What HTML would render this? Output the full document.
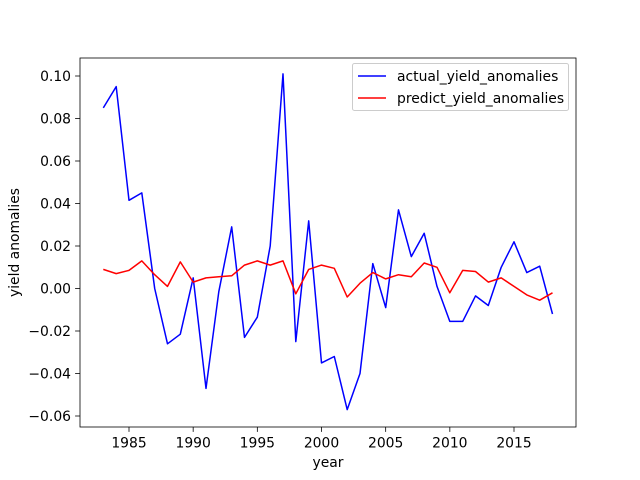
<!DOCTYPE html>
<html><head><meta charset="utf-8"><style>
body{margin:0;background:#fff}
svg{display:block;font-family:"DejaVu Sans","Liberation Sans",sans-serif}
</style></head><body>
<svg id="chart" width="640" height="480" viewBox="0 0 640 480">
<rect width="640" height="480" fill="#fff"/>
<g id="plot"></g>
</svg>
<script>
const years=[1983,1984,1985,1986,1987,1988,1989,1990,1991,1992,1993,1994,1995,1996,1997,1998,1999,2000,2001,2002,2003,2004,2005,2006,2007,2008,2009,2010,2011,2012,2013,2014,2015,2016,2017,2018];
const actualValues=[0.085,0.095,0.0415,0.045,0.0,-0.026,-0.0215,0.005,-0.047,-0.0015,0.029,-0.023,-0.0135,0.020,0.101,-0.025,0.0318,-0.035,-0.032,-0.057,-0.040,0.0117,-0.009,0.037,0.015,0.026,0.001,-0.0155,-0.0155,-0.0035,-0.008,0.010,0.022,0.0075,0.0105,-0.012];
const predictValues=[0.009,0.007,0.0085,0.013,0.0065,0.001,0.0125,0.003,0.005,0.0055,0.006,0.011,0.013,0.011,0.013,-0.0025,0.009,0.011,0.0095,-0.004,0.0025,0.0075,0.0045,0.0065,0.0055,0.012,0.010,-0.002,0.0085,0.008,0.003,0.005,0.001,-0.003,-0.0055,-0.002];
const xTicks=[1985,1990,1995,2000,2005,2010,2015];
const yTicks=[-0.06,-0.04,-0.02,0.00,0.02,0.04,0.06,0.08,0.10];
const yTickLabels=["−0.06","−0.04","−0.02","0.00","0.02","0.04","0.06","0.08","0.10"];

const L=80,R=576,T=58,B=427,FS=13.9;
const xs=v=>129+(v-1985)*(514-129)/30;
const ys=v=>288.5-v*(416-76)/0.16;
const NS="http://www.w3.org/2000/svg";
const g=document.getElementById('plot');
function mk(tag,attrs,parent){const e=document.createElementNS(NS,tag);for(const k in attrs)e.setAttribute(k,attrs[k]);(parent||g).appendChild(e);return e;}

function line(vals,color,name){
  const p=mk('polyline',{points:vals.map((v,i)=>xs(years[i]).toFixed(1)+','+ys(v).toFixed(1)).join(' '),fill:'none',stroke:color,'stroke-width':1.5,'stroke-linejoin':'round'});
  
  
}
line(actualValues,'#0000ff','actual-yield-line');
line(predictValues,'#ff0000','predict-yield-line');

const frame=mk('rect',{x:L,y:T,width:R-L,height:B-T,fill:'none',stroke:'#000','stroke-width':0.8});



xTicks.forEach(t=>{
  const x=xs(t);
  mk('line',{x1:x,x2:x,y1:B,y2:B+4.9,stroke:'#000','stroke-width':0.8});
  const tx=mk('text',{x:x,y:B+20.5,'text-anchor':'middle','font-size':FS});
  tx.textContent=t;
  
  
});
yTicks.forEach((t,i)=>{
  const y=ys(t);
  mk('line',{x1:L-4.9,x2:L,y1:y,y2:y,stroke:'#000','stroke-width':0.8});
  const tx=mk('text',{x:L-9,y:y+5,'text-anchor':'end','font-size':FS});
  tx.textContent=yTickLabels[i];
  
  
});
const xt=mk('text',{x:(L+R)/2,y:467,'text-anchor':'middle','font-size':FS});
xt.textContent='year';


const yt=mk('text',{x:0,y:0,'text-anchor':'middle','font-size':FS,transform:'translate(19,242.5) rotate(-90)'});
yt.textContent='yield anomalies';



const lg=mk('g',{});


mk('rect',{x:352.5,y:63.5,width:216,height:47,rx:2,fill:'#fff','fill-opacity':0.8,stroke:'#ccc','stroke-width':1},lg);
[['actual_yield_anomalies','#0000ff',76],['predict_yield_anomalies','#ff0000',98]].forEach(([lab,c,y])=>{
  const e=mk('g',{},lg);
  
  
  mk('line',{x1:358,x2:386,y1:y,y2:y,stroke:c,'stroke-width':1.5},e);
  const t=mk('text',{x:397,y:y+5,'font-size':FS},e);
  t.textContent=lab;
});
</script>
</body></html>
